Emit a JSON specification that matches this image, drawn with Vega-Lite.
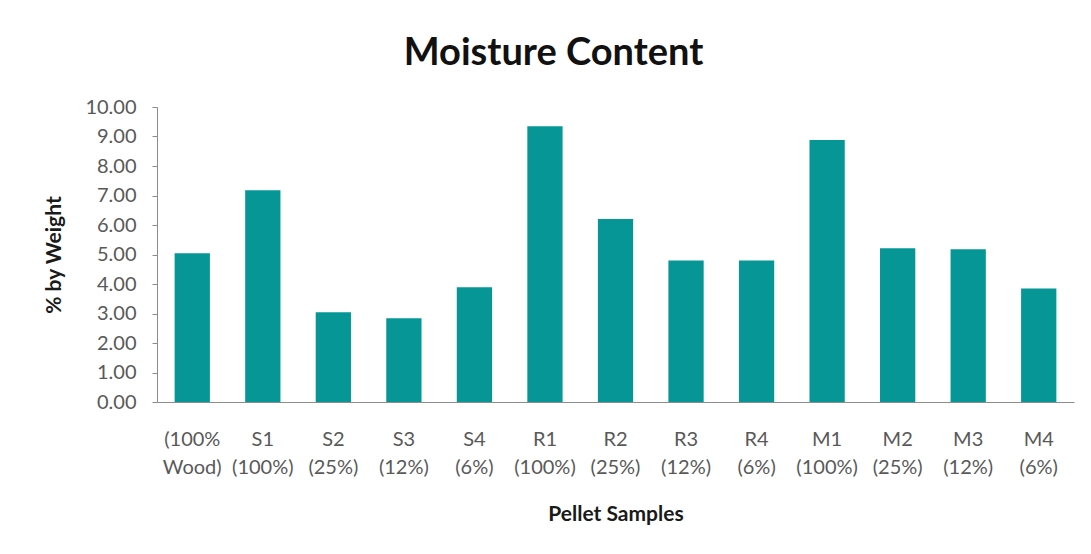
{
  "$schema": "https://vega.github.io/schema/vega-lite/v6.json",
  "width": 917,
  "height": 295,
  "autosize": {"type": "none"},
  "padding": {"left": 157, "top": 107, "right": 17, "bottom": 152},
  "background": "white",
  "title": {
    "text": "Moisture Content",
    "font": "Lato",
    "fontSize": 38,
    "fontWeight": "bold",
    "color": "#111111",
    "anchor": "middle",
    "dx": -62,
    "offset": 24
  },
  "data": {
    "values": [
      {"sample": "(100% Wood)", "moisture": 5.04},
      {"sample": "S1 (100%)", "moisture": 7.18},
      {"sample": "S2 (25%)", "moisture": 3.04},
      {"sample": "S3 (12%)", "moisture": 2.84},
      {"sample": "S4 (6%)", "moisture": 3.89},
      {"sample": "R1 (100%)", "moisture": 9.35},
      {"sample": "R2 (25%)", "moisture": 6.2},
      {"sample": "R3 (12%)", "moisture": 4.8},
      {"sample": "R4 (6%)", "moisture": 4.8},
      {"sample": "M1 (100%)", "moisture": 8.88},
      {"sample": "M2 (25%)", "moisture": 5.21},
      {"sample": "M3 (12%)", "moisture": 5.18},
      {"sample": "M4 (6%)", "moisture": 3.85}
    ]
  },
  "mark": {"type": "bar", "color": "#069696"},
  "encoding": {
    "x": {
      "field": "sample",
      "type": "nominal",
      "sort": null,
      "scale": {"paddingInner": 0.5, "paddingOuter": 0.25},
      "axis": {
        "title": "Pellet Samples",
        "titleFont": "Lato",
        "titleFontSize": 21,
        "titleFontWeight": "bold",
        "titleColor": "#1a1a1a",
        "titlePadding": 26,
        "labelExpr": "split(datum.label, ' ')",
        "labelAngle": 0,
        "labelFont": "Lato",
        "labelFontSize": 20,
        "labelColor": "#595959",
        "labelLineHeight": 28,
        "labelPadding": 27,
        "ticks": false,
        "domainColor": "#8c8c8c",
        "domainWidth": 1,
        "grid": false
      }
    },
    "y": {
      "field": "moisture",
      "type": "quantitative",
      "scale": {"domain": [0, 10], "nice": false},
      "axis": {
        "title": "% by Weight",
        "titleFont": "Lato",
        "titleFontSize": 21,
        "titleFontWeight": "bold",
        "titleColor": "#1a1a1a",
        "titlePadding": 20,
        "values": [0, 1, 2, 3, 4, 5, 6, 7, 8, 9, 10],
        "format": ".2f",
        "labelFont": "Lato",
        "labelFontSize": 20,
        "labelColor": "#595959",
        "labelPadding": 16,
        "tickSize": 5,
        "tickColor": "#8c8c8c",
        "domainColor": "#8c8c8c",
        "grid": false
      }
    }
  },
  "config": {"view": {"stroke": null}}
}
